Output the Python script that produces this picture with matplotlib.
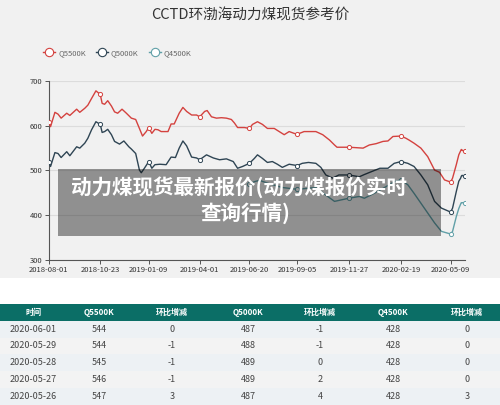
import matplotlib
matplotlib.use("Agg")
import matplotlib.pyplot as plt
import matplotlib.dates as mdates
from matplotlib.patches import Rectangle
from matplotlib.lines import Line2D
import pandas as pd

plt.rcParams['font.family'] = ['Noto Sans CJK SC', 'DejaVu Sans']

W, H = 500, 405

# ---- datos ----
titulo = "CCTD环渤海动力煤现货参考价"
nombres = ["Q5500K", "Q5000K", "Q4500K"]
colores = ["#d4423f", "#2f4554", "#61a0a8"]

q5500_fechas = [
    "2018-08-01", "2018-08-04", "2018-08-11", "2018-08-16", "2018-08-21", "2018-08-30",
    "2018-09-04", "2018-09-15", "2018-09-20", "2018-09-28", "2018-10-03", "2018-10-09",
    "2018-10-16", "2018-10-23", "2018-10-26", "2018-10-30", "2018-11-04", "2018-11-10",
    "2018-11-15", "2018-11-20", "2018-11-27", "2018-12-04", "2018-12-12", "2018-12-19",
    "2018-12-25", "2018-12-30", "2019-01-05", "2019-01-09", "2019-01-14", "2019-01-19",
    "2019-01-24", "2019-01-29", "2019-02-09", "2019-02-14", "2019-02-19", "2019-02-27",
    "2019-03-05", "2019-03-11", "2019-03-19", "2019-03-27", "2019-04-01", "2019-04-09",
    "2019-04-13", "2019-04-20", "2019-04-28", "2019-05-06", "2019-05-14", "2019-05-22",
    "2019-05-27", "2019-06-01", "2019-06-12", "2019-06-20", "2019-06-25", "2019-07-03",
    "2019-07-11", "2019-07-19", "2019-07-30", "2019-08-07", "2019-08-15", "2019-08-23",
    "2019-08-31", "2019-09-05", "2019-09-16", "2019-10-05", "2019-10-16", "2019-10-27",
    "2019-11-04", "2019-11-08", "2019-11-27", "2019-12-09", "2019-12-20", "2019-12-30",
    "2020-01-10", "2020-01-21", "2020-01-29", "2020-02-06", "2020-02-19", "2020-02-27",
    "2020-03-03", "2020-03-11", "2020-03-22", "2020-04-02", "2020-04-13", "2020-04-21",
    "2020-04-29", "2020-05-09", "2020-05-12", "2020-05-18", "2020-05-22", "2020-05-25",
    "2020-05-26", "2020-05-27", "2020-05-28", "2020-05-29", "2020-06-01"]
q5500_vals = [
    608, 598, 630, 626, 617, 628,
    623, 637, 630, 639, 646, 661,
    678, 670, 650, 648, 656, 644,
    631, 628, 637, 628, 617, 614,
    594, 577, 587, 596, 583, 592,
    591, 587, 587, 604, 604, 628,
    641, 632, 624, 624, 620, 632,
    634, 620, 617, 618, 617, 614,
    606, 596, 596, 594, 603, 609,
    603, 594, 594, 587, 580, 587,
    583, 581, 587, 587, 580, 568,
    557, 552, 552, 551, 550, 557,
    560, 565, 566, 576, 577, 572,
    568, 561, 550, 531, 501, 496,
    479, 474, 483, 513, 535, 544,
    547, 546, 545, 544, 544]

q5000_fechas = [
    "2018-08-01", "2018-08-04", "2018-08-11", "2018-08-16", "2018-08-21", "2018-08-30",
    "2018-09-04", "2018-09-15", "2018-09-20", "2018-09-28", "2018-10-03", "2018-10-09",
    "2018-10-16", "2018-10-23", "2018-10-26", "2018-10-30", "2018-11-04", "2018-11-10",
    "2018-11-15", "2018-11-23", "2018-11-30", "2018-12-08", "2018-12-12", "2018-12-19",
    "2018-12-25", "2018-12-28", "2019-01-02", "2019-01-09", "2019-01-14", "2019-01-19",
    "2019-01-27", "2019-02-06", "2019-02-14", "2019-02-21", "2019-02-27", "2019-03-05",
    "2019-03-11", "2019-03-19", "2019-03-27", "2019-04-01", "2019-04-12", "2019-04-23",
    "2019-05-03", "2019-05-14", "2019-05-25", "2019-06-01", "2019-06-09", "2019-06-20",
    "2019-06-28", "2019-07-03", "2019-07-11", "2019-07-19", "2019-07-27", "2019-08-04",
    "2019-08-12", "2019-08-23", "2019-09-05", "2019-09-13", "2019-09-23", "2019-10-05",
    "2019-10-13", "2019-10-21", "2019-11-01", "2019-11-11", "2019-11-27", "2019-12-14",
    "2019-12-22", "2020-01-16", "2020-01-29", "2020-02-08", "2020-02-19", "2020-03-01",
    "2020-03-11", "2020-03-22", "2020-04-02", "2020-04-13", "2020-04-24", "2020-05-09",
    "2020-05-12", "2020-05-18", "2020-05-22", "2020-05-25", "2020-05-26", "2020-05-27",
    "2020-05-28", "2020-05-29", "2020-06-01"]
q5000_vals = [
    520, 509, 540, 538, 529, 542,
    533, 553, 550, 561, 572, 591,
    609, 603, 585, 587, 592, 580,
    565, 559, 566, 553, 548, 538,
    501, 495, 505, 520, 505, 513,
    514, 513, 530, 529, 550, 566,
    555, 530, 528, 524, 535, 528,
    524, 526, 520, 505, 509, 516,
    527, 535, 527, 518, 520, 514,
    507, 514, 511, 516, 518, 516,
    507, 490, 483, 490, 490, 486,
    491, 505, 505, 516, 520, 516,
    509, 490, 468, 431, 416, 407,
    416, 453, 476, 483, 487, 489,
    489, 488, 487]

q4500_fechas = [
    "2019-06-20", "2019-06-28", "2019-07-06", "2019-07-23", "2019-08-12", "2019-09-05",
    "2019-10-05", "2019-10-21", "2019-11-04", "2019-11-27", "2019-12-14", "2019-12-22",
    "2020-01-07", "2020-01-26", "2020-02-08", "2020-02-19", "2020-03-01", "2020-03-11",
    "2020-03-22", "2020-04-02", "2020-04-13", "2020-04-24", "2020-05-09", "2020-05-12",
    "2020-05-18", "2020-05-22", "2020-05-25", "2020-05-26", "2020-05-27", "2020-05-28",
    "2020-05-29", "2020-06-01"]
q4500_vals = [
    470, 475, 478, 470, 462, 458,
    462, 445, 431, 438, 442, 438,
    449, 464, 475, 479, 468, 449,
    427, 405, 383, 364, 358, 364,
    397, 415, 425, 428, 428, 428,
    428, 428]

ticks_x = ["2018-08-01", "2018-10-23", "2019-01-09", "2019-04-01", "2019-06-20",
           "2019-09-05", "2019-11-27", "2020-02-19", "2020-05-09"]
ticks_y = [300, 400, 500, 600, 700]

# tabla inferior
cab_tabla = ["时间", "Q5500K", "环比增减", "Q5000K", "环比增减", "Q4500K", "环比增减"]
tabla_fechas = ["2020-06-01", "2020-05-29", "2020-05-28", "2020-05-27", "2020-05-26"]
tabla_5500 = [544, 544, 545, 546, 547]
tabla_5500_d = [0, -1, -1, -1, 3]
tabla_5000 = [487, 488, 489, 489, 487]
tabla_5000_d = [-1, -1, 0, 2, 4]
tabla_4500 = [428, 428, 428, 428, 428]
tabla_4500_d = [0, 0, 0, 0, 3]

overlay = ["动力煤现货最新报价(动力煤报价实时", "查询行情)"]


def fx(x):
    return x / W


def fy(y):
    return 1 - y / H


# ---- figura ----
fig = plt.figure(figsize=(W / 100, H / 100), dpi=100, facecolor="white")
fig.patches.append(Rectangle((0, fy(278)), 1, 278 / H, transform=fig.transFigure,
                             facecolor="#f1f1f1", edgecolor="none", zorder=-5))

ax = fig.add_axes([fx(48.7), fy(260), fx(465) - fx(48.7), (260 - 81) / H])
ax.set_facecolor("none")

series = [(q5500_fechas, q5500_vals), (q5000_fechas, q5000_vals), (q4500_fechas, q4500_vals)]
tick_set = set(ticks_x)
handles = []
for (fechas, vals), nombre, col in zip(series, nombres, colores):
    marcas = [i for i, f in enumerate(fechas) if f in tick_set] + [len(fechas) - 1]
    ax.plot(pd.to_datetime(fechas), vals, color=col, lw=1.0, marker="o", markersize=3,
            markerfacecolor="white", markeredgewidth=0.7, markevery=marcas, zorder=3)
    handles.append(Line2D([], [], color=col, lw=1.0, marker="o", markersize=6,
                          markerfacecolor="white", markeredgewidth=0.8))

ax.set_xlim(pd.Timestamp("2018-08-01"), pd.Timestamp("2020-06-01"))
ax.set_ylim(300, 700)
ax.set_yticks(ticks_y)
ax.set_xticks(pd.to_datetime(ticks_x))
ax.xaxis.set_major_formatter(mdates.DateFormatter("%Y-%m-%d"))
ax.grid(axis="y", color="#dcdcdc", lw=0.8)
ax.set_axisbelow(True)
for s in ["top", "right"]:
    ax.spines[s].set_visible(False)
for s in ["left", "bottom"]:
    ax.spines[s].set_color("#555555")
    ax.spines[s].set_linewidth(0.8)
ax.tick_params(axis="both", length=3, width=0.7, color="#555555", labelsize=5.5,
               labelcolor="#333333", pad=1.5)

fig.text(0.5, fy(16), titulo, ha="center", va="center", fontsize=10.5, color="#333333")
ax.legend(handles, nombres, loc="center left", bbox_to_anchor=(fx(36), fy(53)),
          bbox_transform=fig.transFigure, ncol=3, frameon=False, fontsize=5.5,
          labelcolor="#666666", handlelength=1.6, handletextpad=0.4, columnspacing=1.3)

# recuadro gris semitransparente con texto
fig.patches.append(Rectangle((fx(58), fy(236)), fx(441) - fx(58), (236 - 169) / H,
                             transform=fig.transFigure, facecolor="black", alpha=0.4,
                             edgecolor="none", zorder=5))
fig.text(fx(239), fy(187), overlay[0], ha="center", va="center", fontsize=14.8,
         fontweight="bold", color="white", zorder=6)
fig.text(fx(245), fy(213), overlay[1], ha="center", va="center", fontsize=14.8,
         fontweight="bold", color="white", zorder=6)

# ---- tabla ----
col_x = [33, 99, 172, 248, 320, 393, 467]
fila_h = 16.8
y0 = 304
fig.patches.append(Rectangle((0, fy(y0 + fila_h)), 1, fila_h / H, transform=fig.transFigure,
                             facecolor="#0b6e66", edgecolor="none", zorder=1))
for x, t in zip(col_x, cab_tabla):
    fig.text(fx(x), fy(y0 + fila_h / 2), t, ha="center", va="center", fontsize=5.8,
             fontweight="bold", color="white", zorder=2)

filas = list(zip(tabla_fechas, tabla_5500, tabla_5500_d, tabla_5000, tabla_5000_d,
                 tabla_4500, tabla_4500_d))
for i, fila in enumerate(filas):
    top = y0 + fila_h * (i + 1)
    fondo = "#edf1f4" if i % 2 == 0 else "#f3f3f3"
    fig.patches.append(Rectangle((0, fy(top + fila_h)), 1, fila_h / H,
                                 transform=fig.transFigure, facecolor=fondo,
                                 edgecolor="none", zorder=1))
    for x, v in zip(col_x, fila):
        fig.text(fx(x), fy(top + fila_h / 2), str(v), ha="center", va="center",
                 fontsize=6.5, color="#444444", zorder=2)

fig.savefig("out.png", dpi=100, facecolor="white")
